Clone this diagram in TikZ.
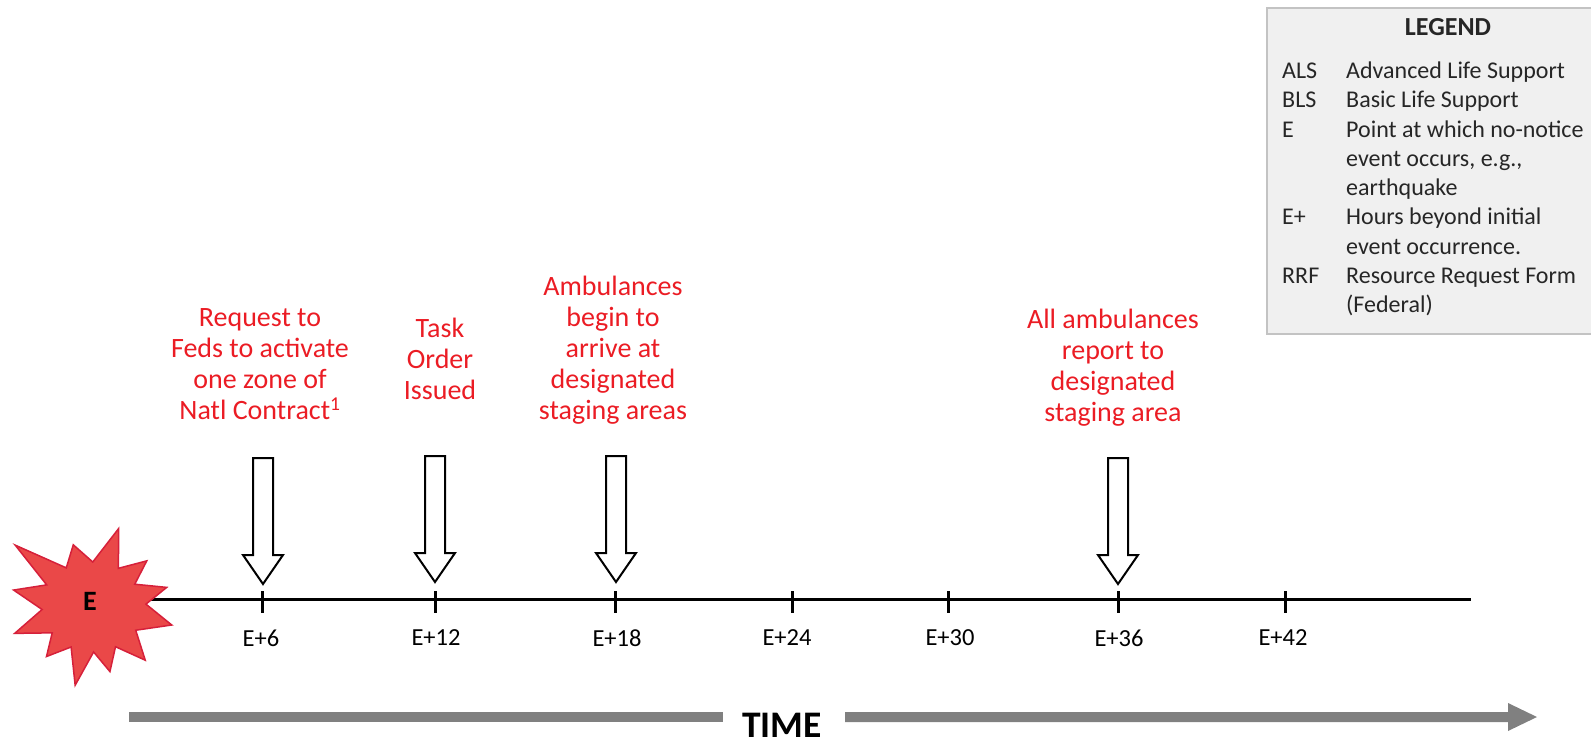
\documentclass[tikz,border=0pt]{standalone}
\usepackage{fontspec}
\setmainfont{Carlito}
\definecolor{evred}{RGB}{235,28,36}
\definecolor{starfill}{RGB}{234,72,72}
\definecolor{starline}{RGB}{214,32,58}
\definecolor{bargray}{RGB}{128,128,128}
\definecolor{legfill}{RGB}{240,240,240}
\definecolor{legline}{RGB}{195,195,195}
\definecolor{legtext}{RGB}{38,38,38}

\begin{document}
\begin{tikzpicture}[x=1pt,y=-1pt,
  eventtext/.style={text=evred, align=center, inner sep=0pt, font=\fontsize{28}{31}\selectfont},
  ticklabel/.style={inner sep=0pt, text=black, font=\fontsize{24.5}{29}\selectfont},
  legentry/.style={anchor=base west, inner sep=0pt, text=legtext, font=\fontsize{24}{29}\selectfont},
  hollowarrow/.style={draw=black, fill=white, line width=2pt, line join=miter},
  tickmark/.style={line width=3pt},
  burst/.style={fill=starfill, draw=starline, line width=1.5pt, line join=miter},
  pics/hollowdown/.style={code={
    \draw[hollowarrow] (-10,-126) -- (10,-126) -- (10,-29) -- (20,-29)
      -- (0,0) -- (-20,-29) -- (-10,-29) -- cycle;}},
]
\useasboundingbox (0,0) rectangle (1591,739);
\clip (0,0) rectangle (1591,739);

% legend box
\node[draw=legline, fill=legfill, line width=1.5pt, inner sep=0pt,
      minimum width=340pt, minimum height=326pt, anchor=north west] (legend) at (1266,7) {};
\node[anchor=base, inner sep=0pt, text=legtext, font=\bfseries\fontsize{26}{30}\selectfont] (legtitle) at (1448,35) {LEGEND};
\node[legentry] (ab1) at (1282,78) {ALS};
\node[legentry] (ds1) at (1346,78) {Advanced Life Support};
\node[legentry] (ab2) at (1282,107) {BLS};
\node[legentry] (ds2) at (1346,107) {Basic Life Support};
\node[legentry] (ab3) at (1282,137) {E};
\node[legentry] (ds3a) at (1346,137) {Point at which no-notice};
\node[legentry] (ds3b) at (1346,166) {event occurs, e.g.,};
\node[legentry] (ds3c) at (1346,195) {earthquake};
\node[legentry] (ab4) at (1282,224) {E+};
\node[legentry] (ds4a) at (1346,224) {Hours beyond initial};
\node[legentry] (ds4b) at (1346,254) {event occurrence.};
\node[legentry] (ab5) at (1282,283) {RRF};
\node[legentry] (ds5a) at (1346,283) {Resource Request Form};
\node[legentry] (ds5b) at (1346,312) {(Federal)};

% timeline axis
\coordinate (tlstart) at (148,599);
\coordinate (tlend) at (1471,599);
\draw[line width=3pt] (tlstart) -- (tlend);

% tick marks and hour labels
\foreach \x/\lx/\lab in {262/261/6, 435/436/12, 615/617/18, 792/787/24, 948/950/30, 1118/1119/36, 1285/1283/42} {
  \coordinate (t\lab) at (\x,599);
  \draw[tickmark] (\x,591) -- (\x,613);
  \node[ticklabel] (lab\lab) at (\lx,638) {E+\lab};
}

% event burst (irregular twelve-point star)
\coordinate (star) at (92,606);
\begin{scope}[shift={(star)}, y=1pt]
  \draw[burst] (71:82) -- (55:46) -- (39.5:71) -- (27:48) -- (14:77) -- (2:54)
    -- (-13.4:82) -- (-29:50) -- (-45.5:76) -- (-60:47) -- (-74.7:68) -- (-88:46)
    -- (-102:81) -- (-117:46) -- (-132:68) -- (-146:48) -- (-160.5:82) -- (-176:50)
    -- (168.5:80) -- (155:50) -- (141.6:98) -- (124:46) -- (107:64) -- (89:44) -- cycle;
\end{scope}
\node[inner sep=0pt, font=\bfseries\fontsize{28}{30}\selectfont] (estar) at (90,601) {E};

% milestone arrows
\pic at (263,584) {hollowdown};
\pic at (435,582) {hollowdown};
\pic at (616,582) {hollowdown};
\pic at (1118,584) {hollowdown};

% milestone texts
\node[eventtext] (m1) at (260,364) {Request to\\Feds to activate\\one zone of\\Natl Contract\textsuperscript{1}};
\node[eventtext] (m2) at (440,359) {Task\\Order\\Issued};
\node[eventtext] (m3) at (613,350.5) {Ambulances\\begin to\\arrive at\\designated\\staging areas};
\node[eventtext] (m4) at (1113,367.5) {All ambulances\\report to\\designated\\staging area};

% time arrow
\node[anchor=base, inner sep=0pt, font=\bfseries\fontsize{37.5}{40}\selectfont] (time) at (782,737) {TIME};
\fill[bargray] (129,712) rectangle (723,722);
\fill[bargray] (845,712) -- (1508,712) -- (1508,703) -- (1537,717) -- (1508,731)
  -- (1508,722) -- (845,722) -- cycle;
\end{tikzpicture}
\end{document}
